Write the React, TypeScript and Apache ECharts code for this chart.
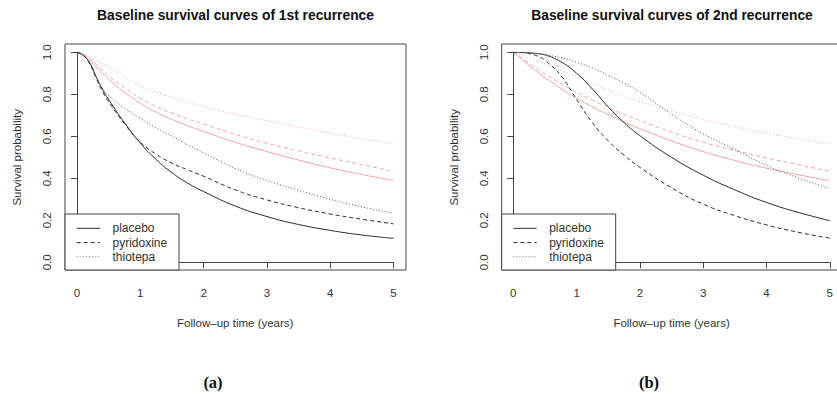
import React, { useEffect, useRef } from "react";
import * as echarts from "echarts";

// ---- data ----
const times = [0, 0.1, 0.2, 0.3, 0.4, 0.5, 0.75, 1, 1.25, 1.5, 1.75, 2, 2.5, 3, 3.5, 4, 4.5, 5];

// panel (a): 1st recurrence
const placebo1 = [1, 0.985, 0.95, 0.885, 0.825, 0.775, 0.665, 0.568, 0.49, 0.427, 0.377, 0.337, 0.268, 0.218, 0.18, 0.152, 0.13, 0.114];
const pyridoxine1 = [1, 0.985, 0.945, 0.878, 0.815, 0.765, 0.66, 0.572, 0.515, 0.472, 0.44, 0.41, 0.345, 0.297, 0.26, 0.23, 0.205, 0.183];
const thiotepa1 = [1, 0.985, 0.95, 0.885, 0.83, 0.795, 0.735, 0.685, 0.64, 0.6, 0.56, 0.522, 0.447, 0.39, 0.343, 0.3, 0.264, 0.233];
const refPlacebo1 = [1, 0.99, 0.965, 0.93, 0.9, 0.872, 0.81, 0.757, 0.715, 0.68, 0.65, 0.623, 0.572, 0.527, 0.487, 0.45, 0.418, 0.389];
const refPyridoxine1 = [1, 0.99, 0.97, 0.943, 0.915, 0.888, 0.832, 0.782, 0.742, 0.71, 0.683, 0.658, 0.609, 0.567, 0.531, 0.497, 0.465, 0.433];
const refThiotepa1 = [1, 0.992, 0.978, 0.962, 0.947, 0.932, 0.883, 0.84, 0.81, 0.785, 0.762, 0.742, 0.705, 0.674, 0.644, 0.615, 0.589, 0.563];

// panel (b): 2nd recurrence
const placebo2 = [1, 1, 0.998, 0.996, 0.993, 0.988, 0.955, 0.9, 0.825, 0.74, 0.665, 0.603, 0.5, 0.415, 0.345, 0.285, 0.238, 0.198];
const pyridoxine2 = [1, 0.999, 0.997, 0.99, 0.98, 0.962, 0.89, 0.775, 0.665, 0.578, 0.51, 0.452, 0.355, 0.277, 0.222, 0.178, 0.143, 0.115];
const thiotepa2 = [1, 1, 0.998, 0.996, 0.993, 0.988, 0.975, 0.952, 0.925, 0.89, 0.853, 0.81, 0.705, 0.612, 0.537, 0.462, 0.402, 0.352];
const refPlacebo2 = [1, 0.975, 0.95, 0.925, 0.902, 0.88, 0.828, 0.782, 0.74, 0.703, 0.668, 0.636, 0.578, 0.527, 0.485, 0.448, 0.417, 0.389];
const refPyridoxine2 = [1, 0.98, 0.958, 0.937, 0.917, 0.898, 0.852, 0.81, 0.772, 0.737, 0.705, 0.675, 0.62, 0.572, 0.533, 0.497, 0.465, 0.433];
const refThiotepa2 = [1, 0.99, 0.978, 0.966, 0.955, 0.944, 0.915, 0.885, 0.852, 0.82, 0.79, 0.765, 0.72, 0.68, 0.645, 0.615, 0.589, 0.563];

const legendNames = ["placebo", "pyridoxine", "thiotepa"];
const titles = ["Baseline survival curves of 1st recurrence", "Baseline survival curves of 2nd recurrence"];
const captions = ["(a)", "(b)"];
const xName = "Follow\u2013up time (years)";
const yName = "Survival probability";

// ---- styles ----
const FONT = "Liberation Sans, Arial, sans-serif";
const BLACK = "#2a2a2a";
const GREY = "#555";
const PINK = "#f3a2aa";
const dashStyles: any[] = ["solid", [4, 3], [1, 2]];

const panels = [
  { gridLeft: 77, boxLeft: 65, center: 235.5, caption: 213 },
  { gridLeft: 513.3, boxLeft: 501.7, center: 672, caption: 649 },
];
const GRID_TOP = 52.3;
const GRID_W = 316.5;
const GRID_H = 210;
const BOX_TOP = 44;
const BOX_W = 341;
const BOX_H = 226;

const pairs = (ys: number[]) => times.map((t, i) => [t, ys[i]]);

export default function App() {
  const ref = useRef<HTMLDivElement>(null);
  useEffect(() => {
    if (!ref.current) return;
    const chart = echarts.init(ref.current, undefined, { renderer: "svg" });
    const blackSets = [
      [placebo1, pyridoxine1, thiotepa1],
      [placebo2, pyridoxine2, thiotepa2],
    ];
    const refSets = [
      [refPlacebo1, refPyridoxine1, refThiotepa1],
      [refPlacebo2, refPyridoxine2, refThiotepa2],
    ];

    const series: any[] = [];
    panels.forEach((p, pi) => {
      refSets[pi].forEach((ys, k) => {
        series.push({
          type: "line",
          name: legendNames[k] + " (reference)",
          xAxisIndex: pi,
          yAxisIndex: pi,
          data: pairs(ys),
          showSymbol: false,
          symbol: "none",
          smooth: 0.5,
          lineStyle: { color: PINK, width: 1, type: dashStyles[k] },
          silent: true,
        });
      });
      blackSets[pi].forEach((ys, k) => {
        series.push({
          type: "line",
          name: legendNames[k],
          xAxisIndex: pi,
          yAxisIndex: pi,
          data: pairs(ys),
          showSymbol: false,
          symbol: "none",
          smooth: 0.5,
          lineStyle: { color: k === 2 ? GREY : BLACK, width: 1, type: dashStyles[k] },
          silent: true,
        });
      });
    });

    const graphics: any[] = [];
    panels.forEach((p, pi) => {
      graphics.push({
        type: "rect",
        shape: { x: p.boxLeft, y: BOX_TOP, width: BOX_W, height: BOX_H },
        style: { fill: "none", stroke: "#444", lineWidth: 1 },
        silent: true,
      });
      const lx = p.boxLeft;
      graphics.push({
        type: "rect",
        shape: { x: lx, y: 214, width: 114, height: BOX_TOP + BOX_H - 214 },
        style: { fill: "#fff", stroke: "#444", lineWidth: 1 },
        z: 10,
      });
      const rows = [228.3, 242.6, 256.7];
      legendNames.forEach((nm, k) => {
        graphics.push({
          type: "line",
          shape: { x1: lx + 11.7, y1: rows[k], x2: lx + 35, y2: rows[k] },
          style: {
            stroke: k === 2 ? "#777" : BLACK,
            lineWidth: 1,
            lineDash: k === 0 ? null : dashStyles[k],
          },
          z: 11,
        });
        graphics.push({
          type: "text",
          x: lx + 47.5,
          y: rows[k],
          style: {
            text: nm,
            font: `12px ${FONT}`,
            fill: "#333",
            align: "left",
            verticalAlign: "middle",
            textAlign: "left",
            textVerticalAlign: "middle",
          },
          z: 11,
        });
      });
      graphics.push({
        type: "text",
        x: p.caption,
        y: 382,
        style: {
          text: captions[pi],
          font: `bold 16.5px "Liberation Serif", "DejaVu Serif", serif`,
          fill: "#111",
          align: "center",
          verticalAlign: "middle",
          textAlign: "center",
          textVerticalAlign: "middle",
        },
      });
    });

    const axisText = { fontFamily: FONT, fontSize: 11.5, color: "#333" };

    chart.setOption({
      animation: false,
      backgroundColor: "#fff",
      title: panels.map((p, pi) => ({
        text: titles[pi],
        left: p.center,
        top: 8,
        padding: 0,
        textAlign: "center",
        textStyle: { fontFamily: FONT, fontSize: 13.8, fontWeight: "bold", color: "#111" },
      })),
      grid: panels.map((p) => ({
        left: p.gridLeft,
        top: GRID_TOP,
        width: GRID_W,
        height: GRID_H,
        containLabel: false,
      })),
      xAxis: panels.map((p, pi) => ({
        type: "value",
        gridIndex: pi,
        min: 0,
        max: 5,
        interval: 1,
        offset: 7.7,
        name: xName,
        nameLocation: "middle",
        nameGap: 47,
        nameTextStyle: axisText,
        axisLine: { show: true, lineStyle: { color: "#444", width: 1 } },
        axisTick: { show: true, length: 6, lineStyle: { color: "#444" } },
        axisLabel: { ...axisText, margin: 17 },
        splitLine: { show: false },
      })),
      yAxis: panels.map((p, pi) => ({
        type: "value",
        gridIndex: pi,
        min: 0,
        max: 1,
        interval: 0.2,
        offset: p.gridLeft - p.boxLeft,
        name: yName,
        nameLocation: "middle",
        nameGap: 42,
        nameRotate: 90,
        nameTextStyle: axisText,
        axisLine: { show: true, lineStyle: { color: "#444", width: 1 } },
        axisTick: { show: true, length: 6, lineStyle: { color: "#444" } },
        axisLabel: { ...axisText, margin: 12, rotate: 90, formatter: (v: number) => v.toFixed(1) },
        splitLine: { show: false },
      })),
      series,
      graphic: graphics,
    });
    return () => chart.dispose();
  }, []);

  return (
    <div
      ref={ref}
      style={{ position: "fixed", left: 0, top: 0, width: 837, height: 400, background: "#fff" }}
    />
  );
}
